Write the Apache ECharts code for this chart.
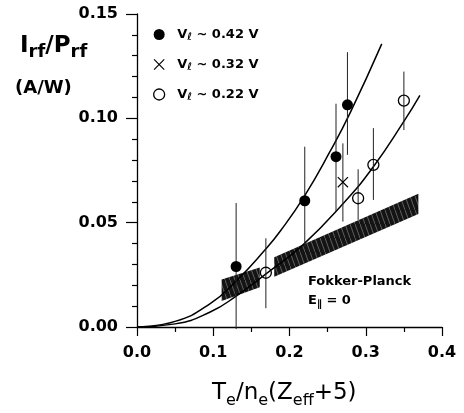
<!DOCTYPE html>
<html><head><meta charset="utf-8">
<script src="https://cdn.jsdelivr.net/npm/echarts@6/dist/echarts.min.js"></script>
<style>html,body{margin:0;padding:0;background:#fff}#c{width:464px;height:413px}</style>
</head><body><div id="c"></div>
<script>
// ---- data ----
const xTickLabels = ['0.0', '0.1', '0.2', '0.3', '0.4'];
const yTickLabels = ['0.00', '0.05', '0.10', '0.15'];
const voltLabels = ['0.42', '0.32', '0.22'];
const seriesNames = ['Vl ~ 0.42 V', 'Vl ~ 0.32 V', 'Vl ~ 0.22 V'];

const filledX  = [0.130, 0.220, 0.261, 0.276];
const filledY  = [0.029, 0.0605, 0.0816, 0.1065];
const filledLo = [-0.001, 0.0385, 0.0553, 0.0825];
const filledHi = [0.0594, 0.0864, 0.107, 0.1317];

const crossX  = [0.270];
const crossY  = [0.0694];
const crossLo = [0.0505];
const crossHi = [0.088];

const openX  = [0.169, 0.290, 0.310, 0.350];
const openY  = [0.026, 0.0617, 0.0777, 0.1085];
const openLo = [0.009, 0.0513, 0.0609, 0.0944];
const openHi = [0.0425, 0.0756, 0.0953, 0.1224];

const upperFitX = [0, 0.05, 0.096, 0.13, 0.168, 0.188, 0.22, 0.253, 0.28, 0.321];
const upperFitY = [0, 0.0027, 0.0112, 0.022, 0.037, 0.046, 0.063, 0.084, 0.103, 0.1357];
const lowerFitX = [0, 0.05, 0.096, 0.13, 0.17, 0.218, 0.2707, 0.31, 0.35, 0.371];
const lowerFitY = [0, 0.0015, 0.0072, 0.0148, 0.0257, 0.0395, 0.0593, 0.0768, 0.0985, 0.111];

const band1X  = [0.111, 0.161];
const band1Lo = [0.0125, 0.019];
const band1Hi = [0.0228, 0.0285];
const band2X  = [0.180, 0.369];
const band2Lo = [0.0241, 0.0542];
const band2Hi = [0.0334, 0.0638];

// ---- build ----
const FONT = 'DejaVu Sans';
const zip = (a, b) => a.map((v, i) => [v, b[i]]);
const errData = (x, lo, hi) => x.map((v, i) => [v, lo[i], hi[i]]);

const pc = document.createElement('canvas');
pc.width = 5; pc.height = 14;
const g = pc.getContext('2d');
g.fillStyle = '#141414'; g.fillRect(0, 0, 5, 14);
g.strokeStyle = 'rgba(255,255,255,0.55)'; g.lineWidth = 0.6;
g.beginPath(); g.moveTo(-1, -2.8); g.lineTo(6, 16.8); g.stroke();
const hatch = { image: pc, repeat: 'repeat' };

const crossPath = 'path://M0,0.75L0.75,0L10,9.25L9.25,10Z M9.25,0L10,0.75L0.75,10L0,9.25Z';

function errRender(params, api) {
  const p1 = api.coord([api.value(0), api.value(1)]);
  const p2 = api.coord([api.value(0), api.value(2)]);
  return { type: 'line', shape: { x1: p1[0], y1: p1[1], x2: p2[0], y2: p2[1] },
           style: { stroke: '#222', lineWidth: 1 } };
}
function bandRender(params, api) {
  const pts = [
    api.coord([api.value(0), api.value(1)]),
    api.coord([api.value(3), api.value(4)]),
    api.coord([api.value(3), api.value(5)]),
    api.coord([api.value(0), api.value(2)])
  ];
  return { type: 'polygon', shape: { points: pts }, style: { fill: hatch } };
}

const legendRich = {
  v: { fontFamily: FONT, fontWeight: 'bold', fontSize: 13, lineHeight: 16, color: '#000' },
  s: { fontFamily: FONT, fontWeight: 'bold', fontSize: 10, lineHeight: 8, verticalAlign: 'bottom', color: '#000' },
  t: { fontFamily: FONT, fontWeight: 'bold', fontSize: 13, lineHeight: 16, color: '#000' }
};

const option = {
  animation: false,
  backgroundColor: '#fff',
  grid: { left: 137, right: 22, top: 14, bottom: 86 },
  xAxis: {
    type: 'value', min: 0, max: 0.4, interval: 0.1,
    axisLine: { lineStyle: { color: '#000', width: 1.3 } },
    axisTick: { length: 9, lineStyle: { color: '#000', width: 1.2 } },
    minorTick: { show: true, splitNumber: 2, length: 5, lineStyle: { color: '#000', width: 1.2 } },
    splitLine: { show: false },
    axisLabel: { margin: 18, color: '#000', fontFamily: FONT, fontWeight: 'bold', fontSize: 16,
      formatter: v => xTickLabels[Math.round(v / 0.1)] }
  },
  yAxis: {
    type: 'value', min: 0, max: 0.15, interval: 0.05,
    axisLine: { show: true, lineStyle: { color: '#000', width: 1.3 } },
    axisTick: { show: true, length: 11, lineStyle: { color: '#000', width: 1.2 } },
    minorTick: { show: true, splitNumber: 5, length: 5, lineStyle: { color: '#000', width: 1.2 } },
    splitLine: { show: false },
    axisLabel: { margin: 19, color: '#000', fontFamily: FONT, fontWeight: 'bold', fontSize: 16,
      formatter: v => yTickLabels[Math.round(v / 0.05)] }
  },
  legend: {
    orient: 'vertical', left: 148, top: 23, itemWidth: 26, itemHeight: 11, itemGap: 15.5,
    selectedMode: false,
    data: [
      { name: seriesNames[0] },
      { name: seriesNames[1] },
      { name: seriesNames[2], itemStyle: { borderWidth: 1.3 } }
    ],
    formatter: name => '{v|V}{s|ℓ}{t| ~ ' + voltLabels[seriesNames.indexOf(name)] + ' V}',
    textStyle: { rich: legendRich }
  },
  series: [
    { type: 'custom', name: 'band', renderItem: bandRender, z: 1, silent: true,
      encode: { x: [0, 3], y: [1, 2, 4, 5] },
      data: [
        [band1X[0], band1Lo[0], band1Hi[0], band1X[1], band1Lo[1], band1Hi[1]],
        [band2X[0], band2Lo[0], band2Hi[0], band2X[1], band2Lo[1], band2Hi[1]]
      ] },
    { type: 'line', name: 'fit upper', data: zip(upperFitX, upperFitY), smooth: 0.5,
      showSymbol: false, symbol: 'none', z: 2, lineStyle: { color: '#000', width: 1.5 } },
    { type: 'line', name: 'fit lower', data: zip(lowerFitX, lowerFitY), smooth: 0.5,
      showSymbol: false, symbol: 'none', z: 2, lineStyle: { color: '#000', width: 1.5 } },
    { type: 'custom', name: 'err', renderItem: errRender, z: 3, silent: true,
      encode: { x: 0, y: [1, 2] },
      data: errData(filledX, filledLo, filledHi)
        .concat(errData(crossX, crossLo, crossHi))
        .concat(errData(openX, openLo, openHi)) },
    { type: 'scatter', name: seriesNames[0], data: zip(filledX, filledY), symbol: 'circle', symbolSize: 11,
      z: 4, itemStyle: { color: '#000', opacity: 1 } },
    { type: 'scatter', name: seriesNames[1], data: zip(crossX, crossY), symbol: crossPath, symbolSize: 11,
      z: 4, itemStyle: { color: '#000', opacity: 1 } },
    { type: 'scatter', name: seriesNames[2], data: zip(openX, openY), symbol: 'circle', symbolSize: 11,
      z: 4, itemStyle: { color: 'rgba(255,255,255,0)', borderColor: '#000', borderWidth: 1.3, opacity: 1 } }
  ],
  graphic: [
    { type: 'text', left: 20, top: 35, style: {
      text: '{m|I}{s|rf}{m|/P}{s|rf}', verticalAlign: 'top',
      rich: {
        m: { fontFamily: FONT, fontWeight: 'bold', fontSize: 23, lineHeight: 30, color: '#000' },
        s: { fontFamily: FONT, fontWeight: 'bold', fontSize: 18, lineHeight: 6, verticalAlign: 'bottom', color: '#000' }
      } } },
    { type: 'text', left: 15, top: 79, style: {
      text: '(A/W)', fontFamily: FONT, fontWeight: 'bold', fontSize: 18, fill: '#000' } },
    { type: 'text', left: 308, top: 275, style: {
      text: 'Fokker-Planck', fontFamily: FONT, fontWeight: 'bold', fontSize: 13, fill: '#000' } },
    { type: 'text', left: 308, top: 294, style: {
      text: '{m|E}{s|∥}{m| = 0}',
      rich: {
        m: { fontFamily: FONT, fontWeight: 'bold', fontSize: 13, lineHeight: 18, color: '#000' },
        s: { fontFamily: FONT, fontWeight: 'bold', fontSize: 10, lineHeight: 4, verticalAlign: 'bottom', color: '#000' }
      } } },
    { type: 'text', left: 212, top: 382, style: {
      text: '{m|T}{s|e}{m|/n}{s|e}{m|(Z}{s|eff}{m|+5)}',
      rich: {
        m: { fontFamily: FONT, fontSize: 23, lineHeight: 30, color: '#000' },
        s: { fontFamily: FONT, fontSize: 16, lineHeight: 5, verticalAlign: 'bottom', color: '#000' }
      } } }
  ]
};
echarts.init(document.getElementById('c'), null, { renderer: 'canvas' }).setOption(option);
</script>
</body></html>
